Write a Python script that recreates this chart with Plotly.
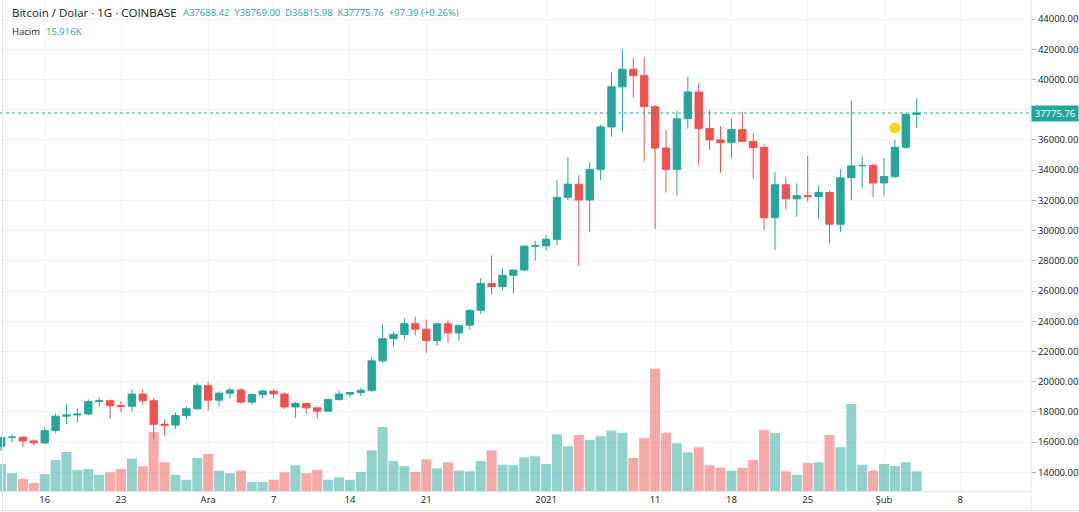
import plotly.graph_objects as go
import pandas as pd

# ---------------- data (daily, Coinbase BTC/USD) ----------------
dates = pd.date_range("2020-11-12", "2021-02-04", freq="D").strftime("%Y-%m-%d").tolist()

opens = [15700, 16300, 16330, 16080, 15950, 16760, 17720, 17800, 17860, 18690,
         18740, 18420, 18380, 19180, 18740, 17180, 17130, 17760, 18210, 19740,
         18780, 19240, 19450, 18650, 19150, 19380, 19190, 18330, 18560, 18270,
         18050, 18830, 19180, 19280, 19430, 21380, 22850, 23130, 23840, 23470,
         22720, 23830, 23230, 23730, 24720, 26500, 26290, 27040, 27390, 28970,
         28990, 29420, 32200, 33070, 32020, 34050, 36860, 39510, 40680, 40250,
         38200, 35460, 34050, 37400, 39170, 36760, 36000, 35820, 36680, 35900,
         35500, 30850, 33030, 32100, 32310, 32250, 32520, 30420, 33500, 34280,
         34310, 33150, 33570, 35510, 37688.42]
highs = [16340, 16520, 16400, 16190, 16950, 17900, 18500, 18200, 18830, 18960,
         18820, 18720, 19490, 19510, 18930, 17500, 17960, 18370, 19900, 19970,
         19370, 19620, 19560, 19250, 19490, 19510, 19290, 18670, 18630, 18320,
         18900, 19440, 19340, 19600, 21600, 23790, 23300, 24200, 24310, 24120,
         23840, 24100, 23790, 24800, 26840, 28380, 27500, 27400, 29040, 29330,
         29700, 33340, 34850, 33680, 34520, 37000, 40470, 42000, 41420, 41480,
         38300, 36650, 37900, 40180, 39740, 37970, 36920, 37430, 37870, 36440,
         35700, 33870, 33540, 33120, 34930, 32970, 32640, 34050, 38590, 34910,
         34450, 34780, 35990, 37760, 38769.00]
lows = [15430, 16000, 15700, 15760, 15870, 16600, 17200, 17320, 17790, 18350,
        17550, 17970, 18010, 18480, 16200, 16400, 16880, 17550, 18170, 18080,
        18370, 18900, 18540, 18480, 18870, 18880, 18210, 17620, 17880, 17550,
        18020, 18740, 19000, 19040, 19300, 21240, 22320, 22800, 23070, 21910,
        22380, 22580, 22710, 23440, 24480, 25780, 26070, 25820, 27280, 28010,
        28710, 29020, 32020, 27660, 29900, 33340, 36210, 36500, 38800, 34600,
        30100, 32510, 32320, 36740, 34300, 35340, 33840, 34780, 35890, 33400,
        30000, 28720, 31400, 30920, 31910, 30810, 29160, 29920, 32020, 32840,
        32200, 32300, 33450, 35400, 36815.98]
closes = [16300, 16330, 16080, 15950, 16760, 17720, 17800, 17860, 18690, 18740,
          18420, 18380, 19180, 18740, 17180, 17130, 17760, 18210, 19740, 18780,
          19240, 19450, 18650, 19150, 19380, 19190, 18330, 18560, 18270, 18050,
          18830, 19180, 19280, 19430, 21380, 22850, 23130, 23840, 23470, 22720,
          23830, 23230, 23730, 24720, 26500, 26290, 27040, 27390, 28970, 28990,
          29420, 32200, 33070, 32020, 34050, 36860, 39510, 40680, 40250, 38200,
          35460, 34050, 37400, 39170, 36760, 36000, 35820, 36680, 35900, 35500,
          30850, 33030, 32100, 32310, 32250, 32520, 30420, 33500, 34280, 34310,
          33150, 33570, 35510, 37678.37, 37775.76]
volume_k = [21.8, 14.5, 9.7, 6.5, 13.7, 25.0, 31.5, 17.0, 17.8, 13.2,
            15.1, 17.8, 26.1, 20.0, 47.7, 23.2, 13.2, 9.1, 26.7, 29.9,
            16.4, 14.5, 16.4, 7.3, 7.3, 9.1, 15.1, 20.8, 14.5, 17.0,
            9.1, 11.1, 9.1, 15.4, 32.9, 51.7, 24.2, 20.0, 15.4, 25.6,
            18.3, 23.2, 16.4, 15.9, 24.2, 32.9, 21.3, 20.8, 27.2, 28.0,
            21.8, 45.8, 36.1, 45.2, 41.4, 44.4, 48.7, 47.1, 26.7, 42.8,
            98.8, 47.1, 38.5, 31.3, 35.3, 20.8, 18.8, 16.4, 18.8, 25.0,
            49.3, 46.9, 15.9, 13.2, 22.6, 23.2, 45.2, 35.3, 70.3, 21.3,
            16.4, 21.8, 20.2, 23.2, 15.916]

event_date = ["2021-02-02"]
event_price = [36800]

x_tick_dates = ["2020-11-16", "2020-11-23", "2020-12-01", "2020-12-07", "2020-12-14",
                "2020-12-21", "2021-01-01", "2021-01-11", "2021-01-18", "2021-01-25",
                "2021-02-01", "2021-02-08"]
x_tick_text = ["16", "23", "Ara", "7", "14", "21", "2021", "11", "18", "25", "Şub", "8"]
y_tick_vals = list(range(14000, 44001, 2000))
# the 38000 label is hidden behind the last-price tag in the reference
y_tick_text = ["" if v == 38000 else f"{v:.2f}" for v in y_tick_vals]

title_text = "Bitcoin / Dolar · 1G · COINBASE"
volume_label = "Hacim"

# ---------------- styling ----------------
UP = "#26A69A"
DOWN = "#EF5350"
UP_VOL = "rgba(38,166,154,0.5)"
DOWN_VOL = "rgba(239,83,80,0.5)"
GRID = "#F0F3FA"
AXIS = "#E0E3EB"
TEXT = "#131722"
FONT = "Open Sans"

W, H = 1079, 512
ML, MR, MT, MB = 0, 48, 0, 21
PW, PH = W - ML - MR, H - MT - MB

fig = go.Figure()

vol_colors = [UP_VOL if c >= o else DOWN_VOL for o, c in zip(opens, closes)]
fig.add_trace(go.Bar(
    x=dates, y=volume_k, yaxis="y2",
    marker=dict(color=vol_colors, line=dict(width=0)),
    width=86400000 * 0.92, hoverinfo="skip", showlegend=False,
))

fig.add_trace(go.Candlestick(
    x=dates, open=opens, high=highs, low=lows, close=closes,
    increasing=dict(line=dict(color=UP, width=1), fillcolor=UP),
    decreasing=dict(line=dict(color=DOWN, width=1), fillcolor=DOWN),
    whiskerwidth=0, showlegend=False, hoverinfo="skip",
))

fig.add_trace(go.Scatter(
    x=event_date, y=event_price, mode="markers",
    marker=dict(size=11, color="#FFD60A", line=dict(width=0)),
    showlegend=False, hoverinfo="skip",
))

last_close = closes[-1]
prev_close = closes[-2]
chg = last_close - prev_close
pct = chg / prev_close * 100

fig.add_shape(type="line", xref="paper", x0=0, x1=1, yref="y", y0=last_close, y1=last_close,
              line=dict(color=UP, width=1, dash="dot"), layer="above")

# frame lines
fig.add_shape(type="line", xref="paper", yref="paper", x0=1, x1=1, y0=-MB / PH, y1=1,
              line=dict(color=AXIS, width=1))
fig.add_shape(type="line", xref="paper", yref="paper", x0=0, x1=W / PW, y0=-19.5 / PH, y1=-19.5 / PH,
              line=dict(color=AXIS, width=1))
fig.add_shape(type="line", xref="paper", yref="paper", x0=2.5 / PW, x1=2.5 / PW, y0=-MB / PH, y1=1,
              line=dict(color=AXIS, width=1))

def px_x(px):
    return (px - ML) / PW

def px_y(py):
    return 1 - (py - MT) / PH

gap = " &nbsp;"
ohlc_text = gap.join([
    f"A{opens[-1]:.2f}", f"Y{highs[-1]:.2f}", f"D{lows[-1]:.2f}", f"K{last_close:.2f}",
    f"{chg:+.2f}&nbsp;({pct:+.2f}%)",
])

annotations = [
    dict(text=title_text, x=px_x(10), y=px_y(13), xref="paper", yref="paper",
         xanchor="left", yanchor="middle", showarrow=False,
         font=dict(family=FONT, size=11.5, color=TEXT)),
    dict(text=ohlc_text,
         x=px_x(181), y=px_y(13), xref="paper", yref="paper",
         xanchor="left", yanchor="middle", showarrow=False,
         font=dict(family=FONT, size=9.5, color=UP)),
    dict(text=volume_label, x=px_x(10), y=px_y(31), xref="paper", yref="paper",
         xanchor="left", yanchor="middle", showarrow=False,
         font=dict(family=FONT, size=9.5, color=TEXT)),
    dict(text=f"{volume_k[-1]:.3f}K", x=px_x(44), y=px_y(31), xref="paper", yref="paper",
         xanchor="left", yanchor="middle", showarrow=False,
         font=dict(family=FONT, size=9.5, color=UP)),
    dict(text=f"{last_close:.2f}", x=1, y=last_close, xref="paper", yref="y",
         xanchor="left", yanchor="middle", showarrow=False,
         bgcolor=UP, width=44, height=13, borderpad=1,
         font=dict(family=FONT, size=9.5, color="white")),
]

fig.update_layout(
    width=W, height=H,
    margin=dict(l=ML, r=MR, t=MT, b=MB, pad=0),
    paper_bgcolor="white", plot_bgcolor="white",
    showlegend=False, hovermode=False,
    boxgap=0.25, boxgroupgap=0.1,
    annotations=annotations,
    xaxis=dict(
        type="date",
        range=["2020-11-11 21:35", "2021-02-14 11:40"],
        rangeslider=dict(visible=False),
        tickvals=x_tick_dates, ticktext=x_tick_text,
        tickfont=dict(family=FONT, size=9.5, color=TEXT),
        showgrid=True, gridcolor=GRID, gridwidth=1,
        showline=True, linecolor=AXIS, linewidth=1,
        ticks="", zeroline=False, fixedrange=True,
    ),
    yaxis=dict(
        side="right",
        range=[12768, 45257],
        tickvals=y_tick_vals, ticktext=y_tick_text,
        tickfont=dict(family=FONT, size=9.5, color=TEXT),
        showgrid=True, gridcolor=GRID, gridwidth=1,
        ticks="outside", ticklen=4, tickcolor="#B2B5BE",
        showline=False, zeroline=False, fixedrange=True,
    ),
    yaxis2=dict(
        overlaying="y", range=[0, PH * volume_k[-1] / 19.7],
        visible=False, fixedrange=True,
    ),
)

fig.write_html("out.html", config={"displayModeBar": False})
